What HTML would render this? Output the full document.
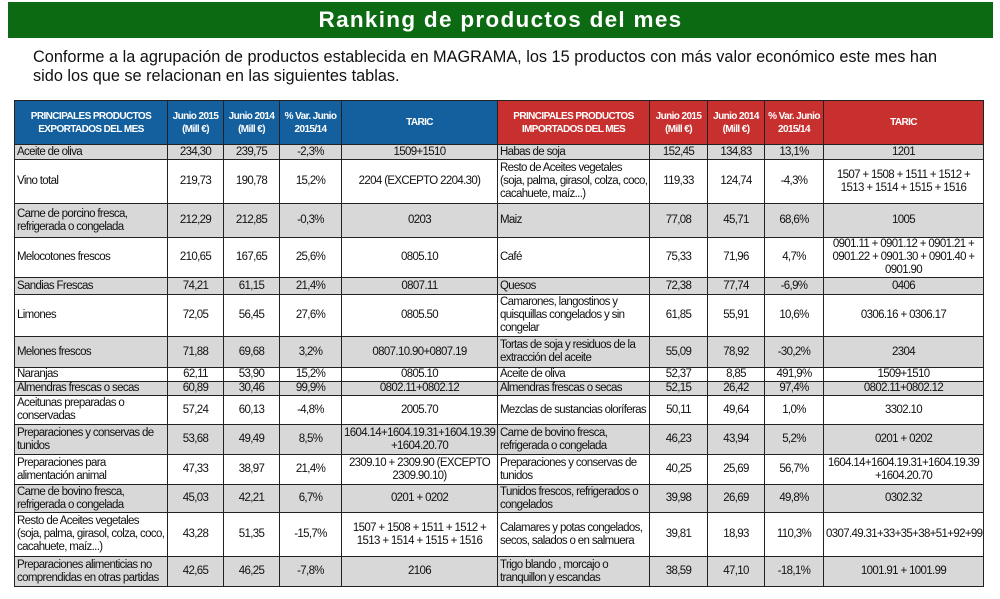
<!DOCTYPE html>
<html><head><meta charset="utf-8"><style>
body{margin:0;width:1000px;height:599px;background:#fff;font-family:"Liberation Sans",Arial,sans-serif;position:relative;overflow:hidden}
.title{position:absolute;left:8px;top:2px;width:985px;height:36px;background:#0b6a12;color:#fff;font-weight:bold;font-size:22.5px;letter-spacing:1.3px;text-align:center;line-height:36px}
.p{position:absolute;left:33px;top:48px;font-size:16.3px;line-height:19px;color:#111;width:918px}
table{position:absolute;left:14px;top:100px;border-collapse:collapse;table-layout:fixed;width:969px;font-size:11.5px;letter-spacing:-0.65px;color:#111}
td{border:1px solid #222;padding:0 2px;text-align:center;line-height:13px;overflow:hidden}
td.n{text-align:left}
td.w{white-space:nowrap}
tr.g td{background:#d8d8d8}
th{color:#fff;font-size:10px;font-weight:bold;line-height:13px;border:1px solid #222;padding:0 1px;letter-spacing:-0.6px}
th.b{background:#14609f}th.r{background:#c8302f}
</style></head><body>
<div class="title">Ranking de productos del mes</div>
<div class="p">Conforme a la agrupación de productos establecida en MAGRAMA, los 15 productos con más valor económico este mes han sido los que se relacionan en las siguientes tablas.</div>
<table>
<colgroup><col style="width:153px"><col style="width:56px"><col style="width:56px"><col style="width:62px"><col style="width:156px"><col style="width:152px"><col style="width:58px"><col style="width:57px"><col style="width:59px"><col style="width:160px"></colgroup>
<tr style="height:44px"><th class="b">PRINCIPALES PRODUCTOS EXPORTADOS DEL MES</th><th class="b">Junio 2015 (Mill €)</th><th class="b">Junio 2014 (Mill €)</th><th class="b">% Var. Junio 2015/14</th><th class="b">TARIC</th><th class="r">PRINCIPALES PRODUCTOS IMPORTADOS DEL MES</th><th class="r">Junio 2015 (Mill €)</th><th class="r">Junio 2014 (Mill €)</th><th class="r">% Var. Junio 2015/14</th><th class="r">TARIC</th></tr>
<tr class="g" style="height:15px"><td class="n">Aceite de oliva</td><td>234,30</td><td>239,75</td><td>-2,3%</td><td>1509+1510</td><td class="n">Habas de soja</td><td>152,45</td><td>134,83</td><td>13,1%</td><td>1201</td></tr>
<tr style="height:44px"><td class="n">Vino total</td><td>219,73</td><td>190,78</td><td>15,2%</td><td>2204 (EXCEPTO 2204.30)</td><td class="n w">Resto de Aceites vegetales<br>(soja, palma, girasol, colza, coco,<br>cacahuete, maíz...)</td><td>119,33</td><td>124,74</td><td>-4,3%</td><td>1507 + 1508 + 1511 + 1512 + 1513 + 1514 + 1515 + 1516</td></tr>
<tr class="g" style="height:34px"><td class="n">Carne de porcino fresca, refrigerada o congelada</td><td>212,29</td><td>212,85</td><td>-0,3%</td><td>0203</td><td class="n">Maiz</td><td>77,08</td><td>45,71</td><td>68,6%</td><td>1005</td></tr>
<tr style="height:39px"><td class="n">Melocotones frescos</td><td>210,65</td><td>167,65</td><td>25,6%</td><td>0805.10</td><td class="n">Café</td><td>75,33</td><td>71,96</td><td>4,7%</td><td>0901.11 + 0901.12 + 0901.21 + 0901.22 + 0901.30 + 0901.40 + 0901.90</td></tr>
<tr class="g" style="height:17px"><td class="n">Sandias Frescas</td><td>74,21</td><td>61,15</td><td>21,4%</td><td>0807.11</td><td class="n">Quesos</td><td>72,38</td><td>77,74</td><td>-6,9%</td><td>0406</td></tr>
<tr style="height:42px"><td class="n">Limones</td><td>72,05</td><td>56,45</td><td>27,6%</td><td>0805.50</td><td class="n">Camarones, langostinos y quisquillas congelados y sin congelar</td><td>61,85</td><td>55,91</td><td>10,6%</td><td>0306.16 + 0306.17</td></tr>
<tr class="g" style="height:31px"><td class="n">Melones frescos</td><td>71,88</td><td>69,68</td><td>3,2%</td><td>0807.10.90+0807.19</td><td class="n">Tortas de soja y residuos de la extracción del aceite</td><td>55,09</td><td>78,92</td><td>-30,2%</td><td>2304</td></tr>
<tr style="height:13px"><td class="n">Naranjas</td><td>62,11</td><td>53,90</td><td>15,2%</td><td>0805.10</td><td class="n">Aceite de oliva</td><td>52,37</td><td>8,85</td><td>491,9%</td><td>1509+1510</td></tr>
<tr class="g" style="height:14px"><td class="n">Almendras frescas o secas</td><td>60,89</td><td>30,46</td><td>99,9%</td><td>0802.11+0802.12</td><td class="n">Almendras frescas o secas</td><td>52,15</td><td>26,42</td><td>97,4%</td><td>0802.11+0802.12</td></tr>
<tr style="height:29px"><td class="n">Aceitunas preparadas o conservadas</td><td>57,24</td><td>60,13</td><td>-4,8%</td><td>2005.70</td><td class="n">Mezclas de sustancias oloríferas</td><td>50,11</td><td>49,64</td><td>1,0%</td><td>3302.10</td></tr>
<tr class="g" style="height:30px"><td class="n">Preparaciones y conservas de tunidos</td><td>53,68</td><td>49,49</td><td>8,5%</td><td>1604.14+1604.19.31+1604.19.39 +1604.20.70</td><td class="n">Carne de bovino fresca, refrigerada o congelada</td><td>46,23</td><td>43,94</td><td>5,2%</td><td>0201 + 0202</td></tr>
<tr style="height:30px"><td class="n w">Preparaciones para<br>alimentación animal</td><td>47,33</td><td>38,97</td><td>21,4%</td><td>2309.10 + 2309.90 (EXCEPTO 2309.90.10)</td><td class="n">Preparaciones y conservas de tunidos</td><td>40,25</td><td>25,69</td><td>56,7%</td><td>1604.14+1604.19.31+1604.19.39 +1604.20.70</td></tr>
<tr class="g" style="height:28px"><td class="n">Carne de bovino fresca, refrigerada o congelada</td><td>45,03</td><td>42,21</td><td>6,7%</td><td>0201 + 0202</td><td class="n">Tunidos frescos, refrigerados o congelados</td><td>39,98</td><td>26,69</td><td>49,8%</td><td>0302.32</td></tr>
<tr style="height:44px"><td class="n w">Resto de Aceites vegetales<br>(soja, palma, girasol, colza, coco,<br>cacahuete, maíz...)</td><td>43,28</td><td>51,35</td><td>-15,7%</td><td>1507 + 1508 + 1511 + 1512 + 1513 + 1514 + 1515 + 1516</td><td class="n">Calamares y potas congelados, secos, salados o en salmuera</td><td>39,81</td><td>18,93</td><td>110,3%</td><td>0307.49.31+33+35+38+51+92+99</td></tr>
<tr class="g" style="height:30px"><td class="n">Preparaciones alimenticias no comprendidas en otras partidas</td><td>42,65</td><td>46,25</td><td>-7,8%</td><td>2106</td><td class="n">Trigo blando , morcajo o tranquillon y escandas</td><td>38,59</td><td>47,10</td><td>-18,1%</td><td>1001.91 + 1001.99</td></tr>
</table>
</body></html>
